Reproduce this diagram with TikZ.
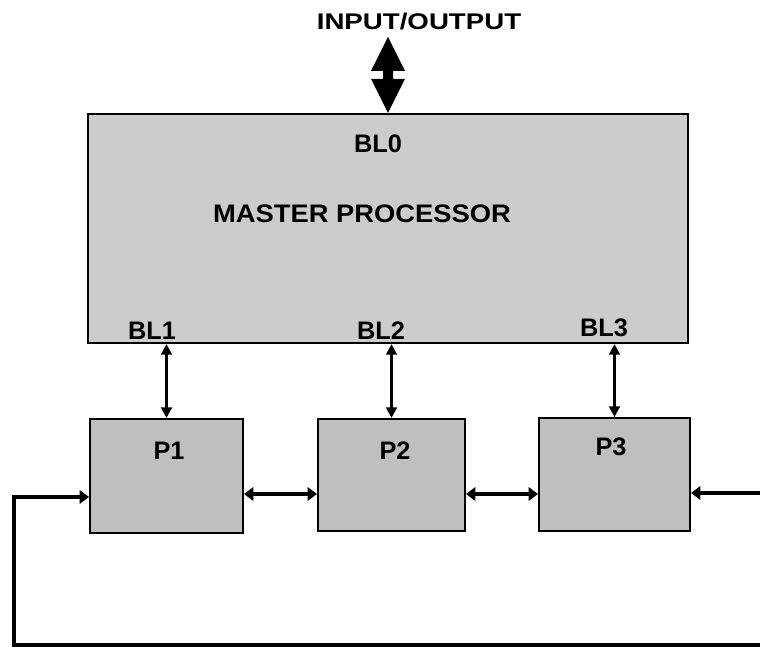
\documentclass[tikz,border=0pt]{standalone}
\usepackage{fontspec}
\setmainfont{Liberation Sans}
\usetikzlibrary{arrows.meta,calc}
\begin{document}
\begin{tikzpicture}[x=0.75pt,y=-0.75pt,
  master/.style={draw=black, line width=1.6pt, fill=black!20, inner sep=0,
    minimum width={600*0.75pt}, minimum height={229*0.75pt}},
  proc/.style={draw=black, line width=1.5pt, fill=black!25, inner sep=0},
  lbl/.style={font=\bfseries\fontsize{19pt}{20pt}\selectfont, inner sep=0},
  bus/.style={line width=2.2pt, {Triangle[width=8pt,length=8pt]}-{Triangle[width=8pt,length=8pt]}},
  link/.style={line width=3.6pt, {Triangle[width=10pt,length=7pt]}-{Triangle[width=10pt,length=7pt]}},
  fb/.style={line width=3.5pt, line join=miter},
]
\useasboundingbox (0,0) rectangle (760,649);

% boxes
\node[master] (master) at (388,228.5) {};
\node[proc, minimum width={153*0.75pt}, minimum height={114*0.75pt}] (P1) at (166.5,476) {};
\node[proc, minimum width={147*0.75pt}, minimum height={112*0.75pt}] (P2) at (391.5,475) {};
\node[proc, minimum width={151*0.75pt}, minimum height={113*0.75pt}] (P3) at (614.5,474.5) {};

% labels
\node[lbl] (bl0) at (378,144) {BL0};
\node[lbl] (mp) at (362,214) {\scalebox{1.08}[1]{MASTER PROCESSOR}};
\node[lbl] (bl1) at (152,331) {BL1};
\node[lbl] (bl2) at (381,331) {BL2};
\node[lbl] (bl3) at (604,328) {BL3};
\node[lbl] (p1l) at (169,451) {P1};
\node[lbl] (p2l) at (395,451) {P2};
\node[lbl] (p3l) at (611,447) {P3};
\node[font=\bfseries\fontsize{17pt}{18pt}\selectfont, inner sep=0] (iotext) at (419,22)
  {\scalebox{1.22}[1]{INPUT/OUTPUT}};

% big input/output arrow
\coordinate (io) at (master.north);
\fill ($(io)+(0,-76)$) -- ($(io)+(17,-42)$) -- ($(io)+(5,-42)$) -- ($(io)+(5,-34)$)
  -- ($(io)+(17,-34)$) -- (io) -- ($(io)+(-17,-34)$) -- ($(io)+(-5,-34)$)
  -- ($(io)+(-5,-42)$) -- ($(io)+(-17,-42)$) -- cycle;

% buses from master to processors
\draw[bus] (master.south -| P1.north) -- (P1.north);
\draw[bus] (master.south -| P2.north) -- (P2.north);
\draw[bus] (master.south -| P3.north) -- (P3.north);

% links between processors
\coordinate (ylink) at (0,494);
\draw[link] (P1.east |- ylink) -- (P2.west |- ylink);
\draw[link] (P2.east |- ylink) -- (P3.west |- ylink);

% ring connection
\coordinate (rin) at (764,493);
\draw[line width=3.6pt, -{Triangle[width=10pt,length=7pt]}] (rin) -- (P3.east |- rin);
\coordinate (fbr) at (764,645);
\coordinate (fbl) at (14,645);
\coordinate (fbt) at (14,497);
\draw[fb, -{Triangle[width=10pt,length=7pt]}] (fbr) -- (fbl) -- (fbt) -- (P1.west |- fbt);
\end{tikzpicture}
\end{document}
